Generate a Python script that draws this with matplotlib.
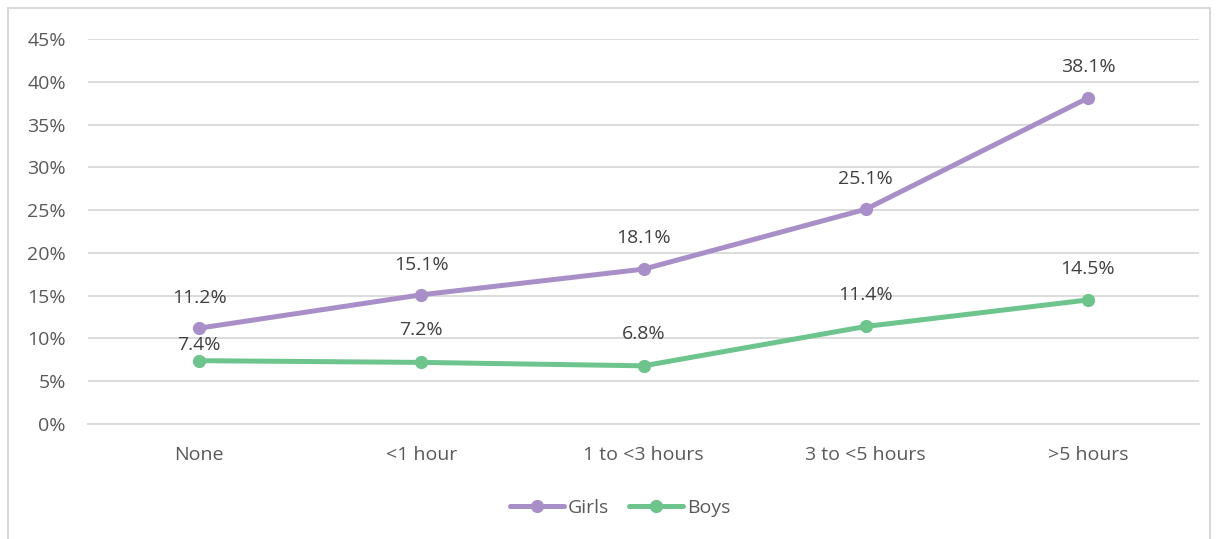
import matplotlib
matplotlib.use("Agg")
import matplotlib.pyplot as plt
from matplotlib.patches import Rectangle

categories = ["None", "<1 hour", "1 to <3 hours", "3 to <5 hours", ">5 hours"]
girls = [11.2, 15.1, 18.1, 25.1, 38.1]
boys = [7.4, 7.2, 6.8, 11.4, 14.5]
yticks = [0, 5, 10, 15, 20, 25, 30, 35, 40, 45]

# label offsets above each point, in pixels
girls_off = [30, 30, 31, 30, 31]
boys_off = [16, 32, 32, 31, 31]

GIRL_C = "#A98FC8"
BOY_C = "#6DC48D"
TXT = "#595959"
LBL = "#404040"
GRID = "#D9D9D9"
FS = 14

plt.rcParams["font.family"] = ["Open Sans", "DejaVu Sans"]

fig = plt.figure(figsize=(12.17, 5.39), dpi=100)
fig.patches.append(Rectangle((8 / 1217, -0.1), 1202 / 1217, 1 - 8 / 539 + 0.1,
                             transform=fig.transFigure, fill=False,
                             edgecolor=GRID, linewidth=1.5))
ax = fig.add_axes([88 / 1217, 1 - 424 / 539, 1111 / 1217, 385 / 539])

x = range(len(categories))
ax.plot(x, girls, color=GIRL_C, lw=3.6, marker="o", ms=8.5, label="Girls",
        solid_capstyle="round", zorder=3)
ax.plot(x, boys, color=BOY_C, lw=3.6, marker="o", ms=8.5, label="Boys",
        solid_capstyle="round", zorder=3)

for vals, offs in ((girls, girls_off), (boys, boys_off)):
    for i, (v, o) in enumerate(zip(vals, offs)):
        ax.annotate(f"{v:.1f}%", (i, v), xytext=(0, o * 0.72), textcoords="offset points",
                    ha="center", va="center", fontsize=FS, color=LBL)

ax.set_xlim(-0.5, len(categories) - 0.5)
ax.set_ylim(0, 45)
ax.set_yticks(yticks)
ax.set_yticklabels([f"{t}%" for t in yticks])
ax.set_xticks(list(x))
ax.set_xticklabels(categories)
ax.tick_params(length=0, labelsize=FS, colors=TXT)
ax.tick_params(axis="y", pad=16)
ax.tick_params(axis="x", pad=16)
ax.grid(axis="y", color=GRID, lw=1.3)
ax.set_axisbelow(True)
for s in ["top", "right", "left"]:
    ax.spines[s].set_visible(False)
ax.spines["bottom"].set_color(GRID)
ax.spines["bottom"].set_linewidth(1.3)

fig.legend(loc="center", bbox_to_anchor=(620 / 1217, 1 - 508 / 539), ncol=2,
           frameon=False, fontsize=FS, labelcolor=TXT, handlelength=2.8,
           handletextpad=0.2, columnspacing=1.0)

fig.savefig("out.png", dpi=100)
